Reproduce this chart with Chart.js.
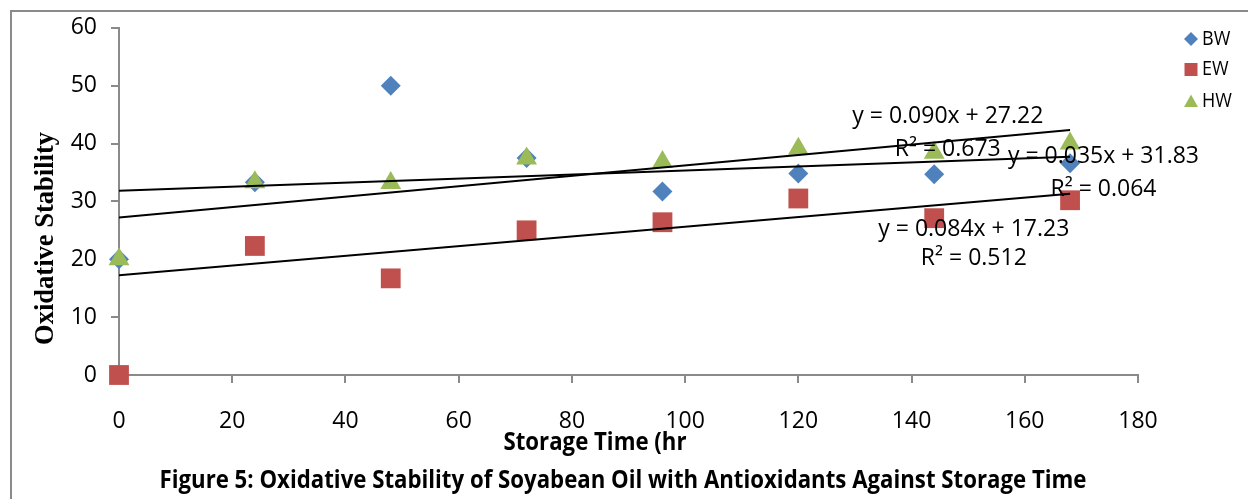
<!DOCTYPE html>
<html>
<head>
<meta charset="utf-8">
<script src="https://cdn.jsdelivr.net/npm/chart.js@4.4.0/dist/chart.umd.min.js"></script>
<style>
  html, body { margin: 0; padding: 0; background: #fff; }
  canvas { display: block; }
</style>
</head>
<body>
<canvas id="Chart" width="1248" height="499"></canvas>
<script>
// storage time in hours
var storageTime = [0, 24, 48, 72, 96, 120, 144, 168];

// oxidative stability per antioxidant
var bwValues = [20, 33.3, 50, 37.5, 31.7, 34.8, 34.7, 36.6];
var ewValues = [0, 22.3, 16.7, 25, 26.4, 30.5, 27.1, 30.2];
var hwValues = [20, 33.3, 33.2, 37.4, 36.8, 39.1, 38.4, 40];

// linear trendlines, as printed on the chart
var trendSlopes = [0.090, 0.035, 0.084];
var trendIntercepts = [27.22, 31.83, 17.23];
var trendR2 = ['0.673', '0.064', '0.512'];
var trendEnd = 168;

var seriesNames = ['BW', 'EW', 'HW'];
var seriesColors = ['#4F81BD', '#C0504D', '#9BBB59'];

function toPoints(values) {
  return storageTime.map(function (t, i) { return { x: t, y: values[i] }; });
}

function fitText(ctx, text, x, y, font, width, align) {
  ctx.save();
  ctx.font = font;
  var w = ctx.measureText(text).width;
  var sx = width ? width / w : 1;
  ctx.translate(x, y);
  ctx.scale(sx, 1);
  ctx.textAlign = align || 'center';
  ctx.textBaseline = 'alphabetic';
  ctx.fillStyle = '#000';
  ctx.fillText(text, 0, 0);
  ctx.restore();
}

// label anchors in data units (centre x, baseline y)
var eqAnchors = [
  [146.4, 43.5, 37.9],
  [173.9, 36.6, 30.9],
  [151.0, 24.1, 19.0]
];

var decorations = {
  id: 'decorations',
  beforeDraw: function (chart) {
    var ctx = chart.ctx;
    ctx.save();
    ctx.fillStyle = '#fff';
    ctx.fillRect(0, 0, chart.width, chart.height);
    ctx.strokeStyle = '#8a8a8a';
    ctx.lineWidth = 2;
    ctx.beginPath();
    ctx.moveTo(11, chart.height);
    ctx.lineTo(11, 11);
    ctx.lineTo(chart.width, 11);
    ctx.stroke();
    ctx.restore();
  },
  afterDraw: function (chart) {
    var ctx = chart.ctx;
    var xs = chart.scales.x, ys = chart.scales.y;

    // trendline equations
    for (var i = 0; i < trendSlopes.length; i++) {
      var a = eqAnchors[i];
      var cx = xs.getPixelForValue(a[0]);
      var eq = 'y = ' + trendSlopes[i].toFixed(3) + 'x + ' + trendIntercepts[i].toFixed(2);
      fitText(ctx, eq, cx, ys.getPixelForValue(a[1]), '23px "Open Sans"', 0);
      fitText(ctx, 'R\u00B2 = ' + trendR2[i], cx, ys.getPixelForValue(a[2]), '23px "Open Sans"', 0);
    }

    // legend
    var ly = [39, 69.5, 101];
    var tb = [45, 75, 107];
    for (var k = 0; k < seriesNames.length; k++) {
      ctx.save();
      ctx.fillStyle = seriesColors[k];
      ctx.beginPath();
      var mx = 1191, my = ly[k];
      if (k === 0) {
        ctx.moveTo(mx, my - 7); ctx.lineTo(mx + 7, my); ctx.lineTo(mx, my + 7); ctx.lineTo(mx - 7, my);
      } else if (k === 1) {
        ctx.rect(mx - 6.5, my - 6.5, 13, 13);
      } else {
        ctx.moveTo(mx, my - 6.5); ctx.lineTo(mx + 7, my + 6); ctx.lineTo(mx - 7, my + 6);
      }
      ctx.closePath();
      ctx.fill();
      ctx.restore();
      ctx.save();
      ctx.font = '20px "Open Sans"';
      ctx.fillStyle = '#000';
      ctx.translate(1202, tb[k]);
      ctx.scale(0.9, 1);
      ctx.fillText(seriesNames[k], 0, 0);
      ctx.restore();
    }

    // axis titles and caption
    fitText(ctx, 'Storage Time (hr', 595, 450, 'bold 25px "Open Sans"', 183);
    fitText(ctx, 'Figure 5: Oxidative Stability of Soyabean Oil with Antioxidants Against Storage Time',
      623, 488, 'bold 25px "Open Sans"', 927);

    ctx.save();
    ctx.translate(53, 238.5);
    ctx.rotate(-Math.PI / 2);
    ctx.font = 'bold 28px "Liberation Serif"';
    var w = ctx.measureText('Oxidative Stability').width;
    ctx.scale(213 / w, 1);
    ctx.textAlign = 'center';
    ctx.fillStyle = '#000';
    ctx.fillText('Oxidative Stability', 0, 0);
    ctx.restore();
  }
};

var datasets = [];
var styles = [
  { pointStyle: 'rectRot', radius: 10, order: 3 },
  { pointStyle: 'rect', radius: 14, order: 2 },
  { pointStyle: 'triangle', radius: 12, order: 1 }
];
[bwValues, ewValues, hwValues].forEach(function (vals, i) {
  datasets.push({
    type: 'scatter',
    label: seriesNames[i],
    data: toPoints(vals),
    backgroundColor: seriesColors[i],
    borderColor: seriesColors[i],
    pointStyle: styles[i].pointStyle,
    pointRadius: styles[i].radius,
    pointHoverRadius: styles[i].radius,
    pointBorderWidth: 0,
    clip: false,
    order: styles[i].order
  });
});
trendSlopes.forEach(function (m, i) {
  datasets.push({
    type: 'line',
    label: 'trend ' + i,
    data: [{ x: 0, y: trendIntercepts[i] }, { x: trendEnd, y: trendIntercepts[i] + m * trendEnd }],
    borderColor: '#000',
    borderWidth: 2,
    pointRadius: 0,
    fill: false,
    order: 0
  });
});

var ctx = document.getElementById('Chart').getContext('2d');
var myChart = new Chart(ctx, {
  data: { datasets: datasets },
  options: {
    responsive: false,
    animation: false,
    layout: { padding: { top: 27, right: 110, left: 0, bottom: 0 } },
    plugins: {
      legend: { display: false },
      tooltip: { enabled: false }
    },
    scales: {
      x: {
        type: 'linear',
        min: 0, max: 180,
        afterFit: function (s) { s.height = 124; },
        ticks: { stepSize: 20, color: '#000', padding: 25, maxRotation: 0, font: { family: 'Open Sans', size: 23 } },
        grid: { drawOnChartArea: false, drawTicks: true, tickLength: 8, color: '#8a8a8a', lineWidth: 2 },
        border: { display: true, color: '#8a8a8a', width: 2 }
      },
      y: {
        type: 'linear',
        min: 0, max: 60,
        afterFit: function (s) { s.width = 119; },
        ticks: { stepSize: 10, color: '#000', padding: 14, font: { family: 'Open Sans', size: 23 } },
        grid: { drawOnChartArea: false, drawTicks: true, tickLength: 8, color: '#8a8a8a', lineWidth: 2 },
        border: { display: true, color: '#8a8a8a', width: 2 }
      }
    }
  },
  plugins: [decorations]
});
</script>
</body>
</html>
